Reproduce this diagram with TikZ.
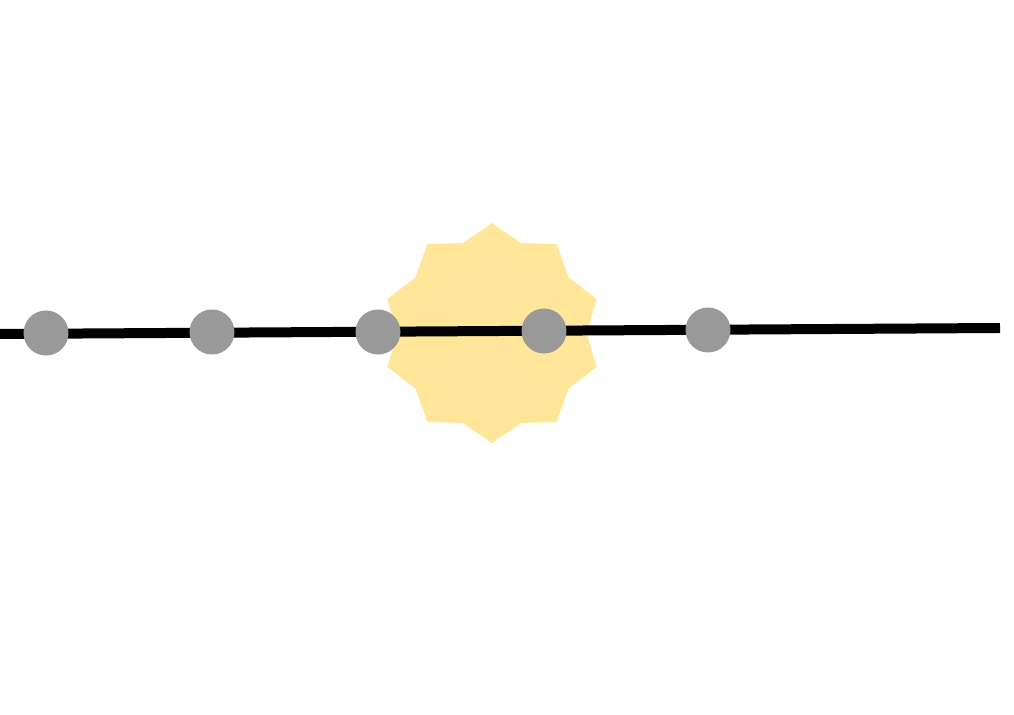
\documentclass[tikz,border=0pt]{standalone}
\usetikzlibrary{shapes.geometric}
\definecolor{sunfill}{HTML}{FFE699}
\definecolor{dotgray}{HTML}{999999}
\tikzset{
  dot/.style={circle, fill=dotgray, inner sep=0pt, minimum size=0.9cm},
  sun/.style={star, star points=10, star point ratio=1.163, fill=sunfill, inner sep=0pt, minimum size=4.4cm}
}
\begin{document}
\begin{tikzpicture}[x=0.02cm, y=-0.02cm]
    \useasboundingbox (0,0) rectangle (1014,715);
    % Star behind the line
    \node[sun] (sun) at (492,333) {};
    % Line
    \coordinate (left) at (0,334);
    \coordinate (right) at (1000,328);
    \draw[line width=0.2cm] (left) -- (right);
    % Dots on the line
    \node[dot] (d1) at (46,333) {};
    \node[dot] (d2) at (212,332) {};
    \node[dot] (d3) at (378,332) {};
    \node[dot] (d4) at (544,331) {};
    \node[dot] (d5) at (708,330) {};
\end{tikzpicture}
\end{document}
